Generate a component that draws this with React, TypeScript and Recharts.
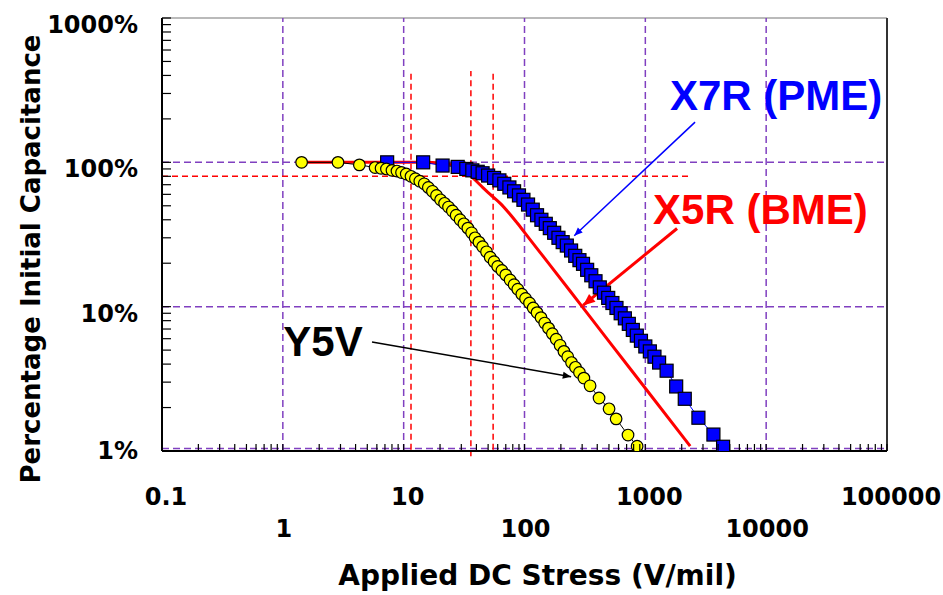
import React from 'react';
import { ComposedChart, Scatter, Line, XAxis, YAxis, ReferenceLine, ReferenceDot, Label } from 'recharts';

// Y5V (yellow circles): [stress V/mil, % of initial capacitance]
const y5vPoints = [
  [1.43, 100], [2.86, 100], [4.3, 96], [5.8, 92], [6.5, 91], [7.2, 90], [8.0, 88], [8.8, 87], [9.6, 85],
  [10.5, 83], [11.5, 80], [12.5, 77], [13.6, 74], [14.8, 71], [16, 67], [17.3, 63], [18.7, 59], [20.2, 55],
  [21.8, 52], [23.5, 49], [25.3, 46], [27.2, 43], [29.3, 40], [31.5, 37.5], [34, 35], [36.5, 32.5], [39, 30],
  [42, 28], [45, 26], [48.5, 24], [52, 22], [56, 20.5], [60, 19], [65, 17.8], [70, 16.6], [76, 15.3],
  [82, 14.2], [88, 13.2], [95, 12.2], [102, 11.4], [110, 10.6], [118, 9.8], [127, 9.1], [137, 8.4],
  [147, 7.7], [158, 7.1], [170, 6.5], [183, 5.95], [197, 5.4], [212, 4.9], [228, 4.5], [245, 4.1],
  [264, 3.8], [285, 3.5], [310, 3.2], [349, 2.83], [414, 2.33], [501, 1.96], [573, 1.67], [719, 1.29], [855, 1.08],
];

// X7R PME (blue squares)
const x7rPoints = [
  [7.3, 100], [14.5, 100], [21, 95], [28, 93], [33, 90], [37, 88], [41, 86], [45, 84], [50, 81], [56, 78],
  [62, 75], [68, 71], [75, 67], [82, 63], [90, 59], [98, 55], [107, 51], [117, 47], [127, 43], [138, 40],
  [150, 37.5], [162, 35], [176, 32.5], [191, 30], [207, 28], [224, 26.5], [243, 24.5], [263, 22.5],
  [285, 21], [305, 19.8], [330, 18], [357, 16.5], [387, 15], [420, 13.6], [455, 12.5], [493, 11.5],
  [534, 10.6], [577, 9.8], [625, 9], [677, 8.3], [730, 7.6], [788, 6.9], [850, 6.3], [920, 5.8],
  [1000, 5.3], [1090, 4.9], [1190, 4.5], [1300, 4.1], [1500, 3.6], [1800, 2.8], [2120, 2.3],
  [2750, 1.7], [3660, 1.3], [4400, 1.07],
];

// X5R BME (red curve)
const x5rPoints = [
  [1.3, 100], [5, 100], [10, 100], [15, 100], [20, 99], [25, 96], [30, 90], [35, 82], [40, 74], [45, 67],
  [52, 60], [63, 52], [87, 38], [110, 29.5], [162, 19.5], [300, 10], [500, 5.75], [1000, 2.72], [2350, 1.08],
];

const xDecades = [0.1, 1, 10, 100, 1000, 10000];
const yDecades = [1, 10, 100];
const minorSteps = [1, 2, 3, 4, 5, 6, 7, 8, 9];
const xUpperLabels = [0.1, 10, 1000, 100000];
const xLowerLabels = [1, 100, 10000];
const yLabels = [1, 10, 100, 1000];
const xGrid = [1, 10, 100, 1000, 10000];
const yGrid = [10, 100];

// red dashed markers
const redVLines = [11.5, 36, 55];
const redVBottoms = [1.02, 0.92, 1.02];
const redHLine = 80;

const toXY = (pts: number[][]) => pts.map(([x, y]) => ({ x, y }));
const y5v = toXY(y5vPoints);
const x7r = toXY(x7rPoints);
const x5r = toXY(x5rPoints);

const xTicks = xDecades.flatMap((d) => minorSteps.map((m) => m * d)).concat([100000]);
const yTicks = yDecades.flatMap((d) => minorSteps.map((m) => m * d)).concat([1000]);

const PURPLE = '#8040C0';
const tickFont = { fontFamily: '"DejaVu Sans", sans-serif', fontWeight: 700, fontSize: 24, fill: '#000' };
const noteFont = { fontFamily: '"Liberation Sans", Arial, sans-serif', fontWeight: 700, fontSize: 42 };

const XTick = (props: any) => {
  const { x, y, payload } = props;
  const v = payload.value;
  const upper = xUpperLabels.includes(v);
  const lower = xLowerLabels.includes(v);
  return (
    <g>
      <line x1={x} y1={y} x2={x} y2={y - 7} stroke="#000" strokeWidth={1.2} />
      {(upper || lower) && (
        <text x={x + (upper ? 4 : 1)} y={y + (upper ? 54 : 86)} textAnchor="middle" style={tickFont}>
          {String(v)}
        </text>
      )}
    </g>
  );
};

const YTick = (props: any) => {
  const { x, y, payload } = props;
  const v = payload.value;
  return (
    <g>
      <line x1={x} y1={y} x2={x + 9} y2={y} stroke="#000" strokeWidth={1.2} />
      {yLabels.includes(v) && (
        <text x={x - 24} y={y + (v === 1 ? 8 : 15)} textAnchor="end" style={tickFont}>
          {v + '%'}
        </text>
      )}
    </g>
  );
};

const Dot = (p: any) => <circle cx={p.cx} cy={p.cy} r={5.8} fill="#FFFF00" stroke="#000" strokeWidth={1.2} />;
const Square = (p: any) => (
  <rect x={p.cx - 6.5} y={p.cy - 6.5} width={13} height={13} fill="#0000FF" stroke="#000" strokeWidth={1.2} />
);

const arrow = (color: string, width: number, head: number) => (p: any) => {
  const { x1, y1, x2, y2 } = p;
  const a = Math.atan2(y2 - y1, x2 - x1);
  const pts = [
    [x2, y2],
    [x2 - head * Math.cos(a - 0.4), y2 - head * Math.sin(a - 0.4)],
    [x2 - head * Math.cos(a + 0.4), y2 - head * Math.sin(a + 0.4)],
  ];
  return (
    <g>
      <line x1={x1} y1={y1} x2={x2} y2={y2} stroke={color} strokeWidth={width} />
      <polygon points={pts.map((q) => q.join(',')).join(' ')} fill={color} />
    </g>
  );
};

const note = (text: string, color: string) => (p: any) => (
  <text x={p.cx} y={p.cy} style={{ ...noteFont, fill: color }}>{text}</text>
);

export default function App() {
  return (
    <div style={{ position: 'absolute', left: 0, top: 0, width: 943, height: 595, background: '#fff' }}>
      <ComposedChart width={943} height={595} margin={{ top: 18, right: 56, bottom: 44, left: 0 }}>
        <XAxis
          dataKey="x"
          type="number"
          scale="log"
          domain={[0.1, 100000]}
          ticks={xTicks}
          interval={0}
          tick={<XTick />}
          tickLine={false}
          tickSize={0}
          tickMargin={0}
          height={100}
          axisLine={{ stroke: '#000', strokeWidth: 2 }}
          allowDataOverflow
        >
          <Label
            content={(p: any) => (
              <text
                x={p.viewBox.x + p.viewBox.width / 2 + 13}
                y={p.viewBox.y + 134}
                textAnchor="middle"
                style={{ ...tickFont, fontSize: 28 }}
              >
                Applied DC Stress (V/mil)
              </text>
            )}
          />
        </XAxis>
        <YAxis
          dataKey="y"
          type="number"
          scale="log"
          domain={[1, 1000]}
          ticks={yTicks}
          interval={0}
          tick={<YTick />}
          tickLine={false}
          tickSize={0}
          tickMargin={0}
          width={162}
          axisLine={{ stroke: '#000', strokeWidth: 2 }}
          allowDataOverflow
        >
          <Label
            content={() => (
              <text
                x={0}
                y={0}
                transform="translate(40,259) rotate(-90)"
                textAnchor="middle"
                style={{ ...tickFont, fontSize: 26 }}
              >
                Percentage Initial Capacitance
              </text>
            )}
          />
        </YAxis>

        {/* frame */}
        <ReferenceLine y={1000} stroke="#777" strokeWidth={1.2} />
        <ReferenceLine x={100000} stroke="#333" strokeWidth={2} />

        {/* purple grid */}
        {xGrid.map((v) => (
          <ReferenceLine key={'gx' + v} x={v} stroke={PURPLE} strokeWidth={1.5} strokeDasharray="7 4" />
        ))}
        {yGrid.map((v) => (
          <ReferenceLine key={'gy' + v} y={v} stroke={PURPLE} strokeWidth={1.5} strokeDasharray="7 4" />
        ))}
        <ReferenceLine y={1.04} stroke={PURPLE} strokeWidth={1.5} strokeDasharray="7 4" />

        {/* red dashed markers */}
        <ReferenceLine
          segment={[{ x: 0.1, y: redHLine }, { x: 2300, y: redHLine }]}
          stroke="#FF0000"
          strokeWidth={1.5}
          strokeDasharray="6 4"
        />
        {redVLines.map((v, i) => (
          <ReferenceLine
            key={'rv' + v}
            segment={[{ x: v, y: redVBottoms[i] }, { x: v, y: 430 }]}
            stroke="#FF0000"
            strokeWidth={1.5}
            strokeDasharray="6 4"
            ifOverflow="visible"
          />
        ))}

        <Scatter
          data={x7r}
          shape={Square}
          line={{ stroke: '#0000FF', strokeWidth: 1 }}
          lineType="joint"
          isAnimationActive={false}
        />
        <Scatter
          data={y5v}
          shape={Dot}
          line={{ stroke: '#000', strokeWidth: 1 }}
          lineType="joint"
          isAnimationActive={false}
        />
        <Line
          data={x5r}
          dataKey="y"
          type="monotone"
          stroke="#FF0000"
          strokeWidth={3}
          dot={false}
          activeDot={false}
          isAnimationActive={false}
        />

        {/* annotations */}
        <ReferenceLine segment={[{ x: 2580, y: 190 }, { x: 258, y: 31 }]} shape={arrow('#0000FF', 1.5, 9)} />
        <ReferenceLine segment={[{ x: 1830, y: 34.8 }, { x: 305, y: 10.2 }]} shape={arrow('#FF0000', 3, 13)} />
        <ReferenceLine segment={[{ x: 5.47, y: 5.7 }, { x: 243, y: 3.27 }]} shape={arrow('#000', 1.5, 9)} />
        <ReferenceDot x={1600} y={230} r={0} shape={note('X7R (PME)', '#0000FF')} />
        <ReferenceDot x={1160} y={37.5} r={0} shape={note('X5R (BME)', '#FF0000')} />
        <ReferenceDot x={1.01} y={4.57} r={0} shape={note('Y5V', '#000')} />
      </ComposedChart>
    </div>
  );
}
